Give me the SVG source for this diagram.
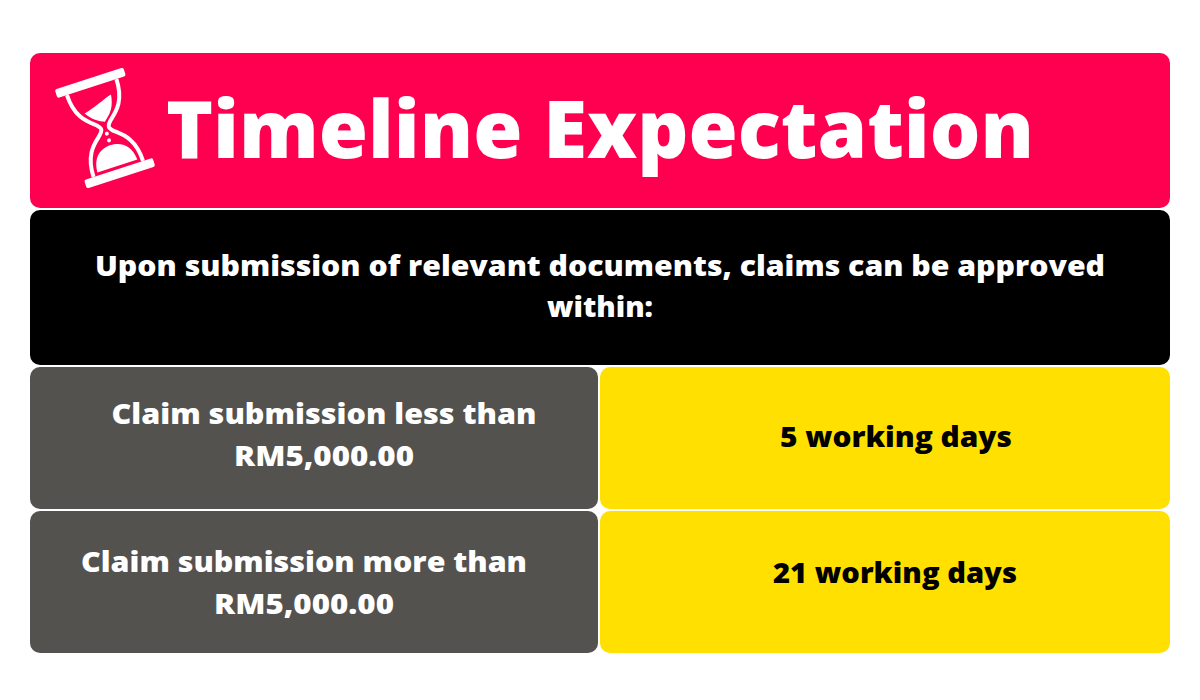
<svg xmlns="http://www.w3.org/2000/svg" width="1200" height="700" viewBox="0 0 1200 700">
<style>
text{font-family:"Open Sans","Liberation Sans",sans-serif;font-weight:800;text-anchor:middle}
.w{fill:#fff;font-size:29px}
.k{fill:#000;font-size:29px}
</style>
<rect width="1200" height="700" fill="#fff"/>
<g id="header">
<rect x="30" y="53" width="1140" height="155" rx="10" fill="#FF0050"/>
<g id="hourglass" transform="translate(105,128) rotate(-18)" fill="#fff" stroke="#fff">
<rect x="-36" y="-52" width="72" height="9" rx="2" stroke="none"/>
<rect x="-36" y="43" width="72" height="9" rx="2" stroke="none"/>
<path d="M-26,-43 C-26,-10 -4,-8 -4,0 C-4,8 -26,10 -26,43 M26,-43 C26,-10 4,-8 4,0 C4,8 26,10 26,43" fill="none" stroke-width="4"/>
<path d="M-15,-20 C-5,-22 8,-28 16,-30 C14,-14 6,-10 2,-6 C-4,-8 -10,-12 -15,-20Z" stroke="none"/>
<circle cx="0" cy="6" r="2" stroke="none"/><circle cx="0" cy="13" r="2" stroke="none"/>
<path d="M-21,40 C-20,22 -8,18 0,18 C8,18 20,22 21,40Z" stroke="none"/>
</g>
<text x="600" y="158" fill="#fff" style="font-size:80px" textLength="868" lengthAdjust="spacingAndGlyphs">Timeline Expectation</text>
</g>
<g id="intro">
<rect x="30" y="210" width="1140" height="155" rx="10" fill="#000"/>
<text class="w" x="600" y="276" textLength="1010" lengthAdjust="spacingAndGlyphs">Upon submission of relevant documents, claims can be approved</text>
<text class="w" x="600" y="317" textLength="106" lengthAdjust="spacingAndGlyphs">within:</text>
</g>
<g id="row1-label">
<rect x="30" y="367" width="568" height="142" rx="10" fill="#53524F"/>
<text class="w" x="324" y="424" textLength="425" lengthAdjust="spacingAndGlyphs">Claim submission less than</text>
<text class="w" x="324" y="466" textLength="180" lengthAdjust="spacingAndGlyphs">RM5,000.00</text>
</g>
<g id="row1-value">
<rect x="600" y="367" width="570" height="142" rx="10" fill="#FFE000"/>
<text class="k" x="896" y="447" textLength="232" lengthAdjust="spacingAndGlyphs">5 working days</text>
</g>
<g id="row2-label">
<rect x="30" y="511" width="568" height="142" rx="10" fill="#53524F"/>
<text class="w" x="304" y="572" textLength="446" lengthAdjust="spacingAndGlyphs">Claim submission more than</text>
<text class="w" x="304" y="614" textLength="180" lengthAdjust="spacingAndGlyphs">RM5,000.00</text>
</g>
<g id="row2-value">
<rect x="600" y="511" width="570" height="142" rx="10" fill="#FFE000"/>
<text class="k" x="895" y="583" textLength="244" lengthAdjust="spacingAndGlyphs">21 working days</text>
</g>
<g id="connectors"/>
</svg>
